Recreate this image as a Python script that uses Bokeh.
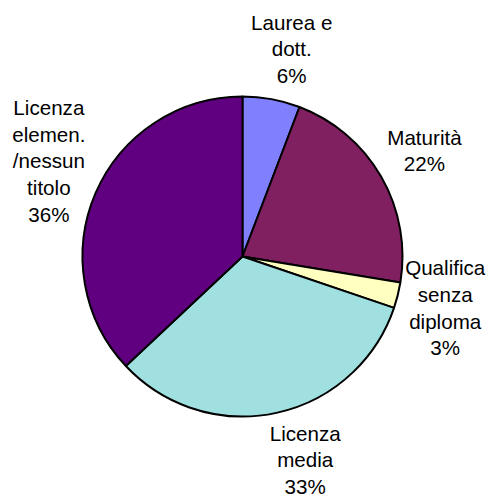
import math
from bokeh.plotting import figure
from bokeh.models import ColumnDataSource, Range1d
from bokeh.core.properties import value
from bokeh.embed import file_html
from bokeh.resources import INLINE

categories = ["Laurea e\ndott.", "Maturità", "Qualifica\nsenza\ndiploma",
              "Licenza\nmedia", "Licenza\nelemen.\n/nessun\ntitolo"]
shares = [5.8, 21.8, 2.6, 32.8, 37.0]
pct_labels = ["6%", "22%", "3%", "33%", "36%"]
colors = ["#8080FF", "#802060", "#FFFFC0", "#A0E0E0", "#600080"]

# layout constants (pixels)
W, H = 489, 498
cx, cy = 242, 256          # pie centre in frame pixels (from top-left)
R = 160
LABEL_R = 211
LABEL_NUDGE = [(11, 0), (-1, 1), (-2, 0), (18, 3), (0, 12)]

total = sum(shares)
starts, ends, lx, ly, texts = [], [], [], [], []
cum = 0.0
for s, c, pl, (nx, ny) in zip(shares, categories, pct_labels, LABEL_NUDGE):
    a0 = cum / total
    cum += s
    a1 = cum / total
    starts.append(math.pi / 2 - 2 * math.pi * a0)
    ends.append(math.pi / 2 - 2 * math.pi * a1)
    mid = 2 * math.pi * (a0 + a1) / 2
    lx.append(LABEL_R * math.sin(mid) + nx)
    ly.append(LABEL_R * math.cos(mid) + ny)
    texts.append(c + "\n" + pl)

src = ColumnDataSource(dict(start=starts, end=ends, color=colors))
lsrc = ColumnDataSource(dict(x=lx, y=ly, text=texts))

p = figure(width=W, height=H, output_backend="svg", toolbar_location=None,
           x_range=Range1d(-cx, W - cx), y_range=Range1d(cy - H, cy),
           min_border=0)
p.axis.visible = False
p.grid.visible = False
p.outline_line_color = None
p.background_fill_color = "white"

p.wedge(x=0, y=0, radius=R, start_angle="start", end_angle="end",
        direction="clock", fill_color="color", line_color="black",
        line_width=2, source=src)

p.text(x="x", y="y", text="text", source=lsrc,
       text_font=value("Liberation Sans"), text_font_size="20.6px",
       text_color="black", text_align="center", text_baseline="middle",
       text_line_height=1.16)

open("out.html", "w").write(file_html(p, INLINE))
